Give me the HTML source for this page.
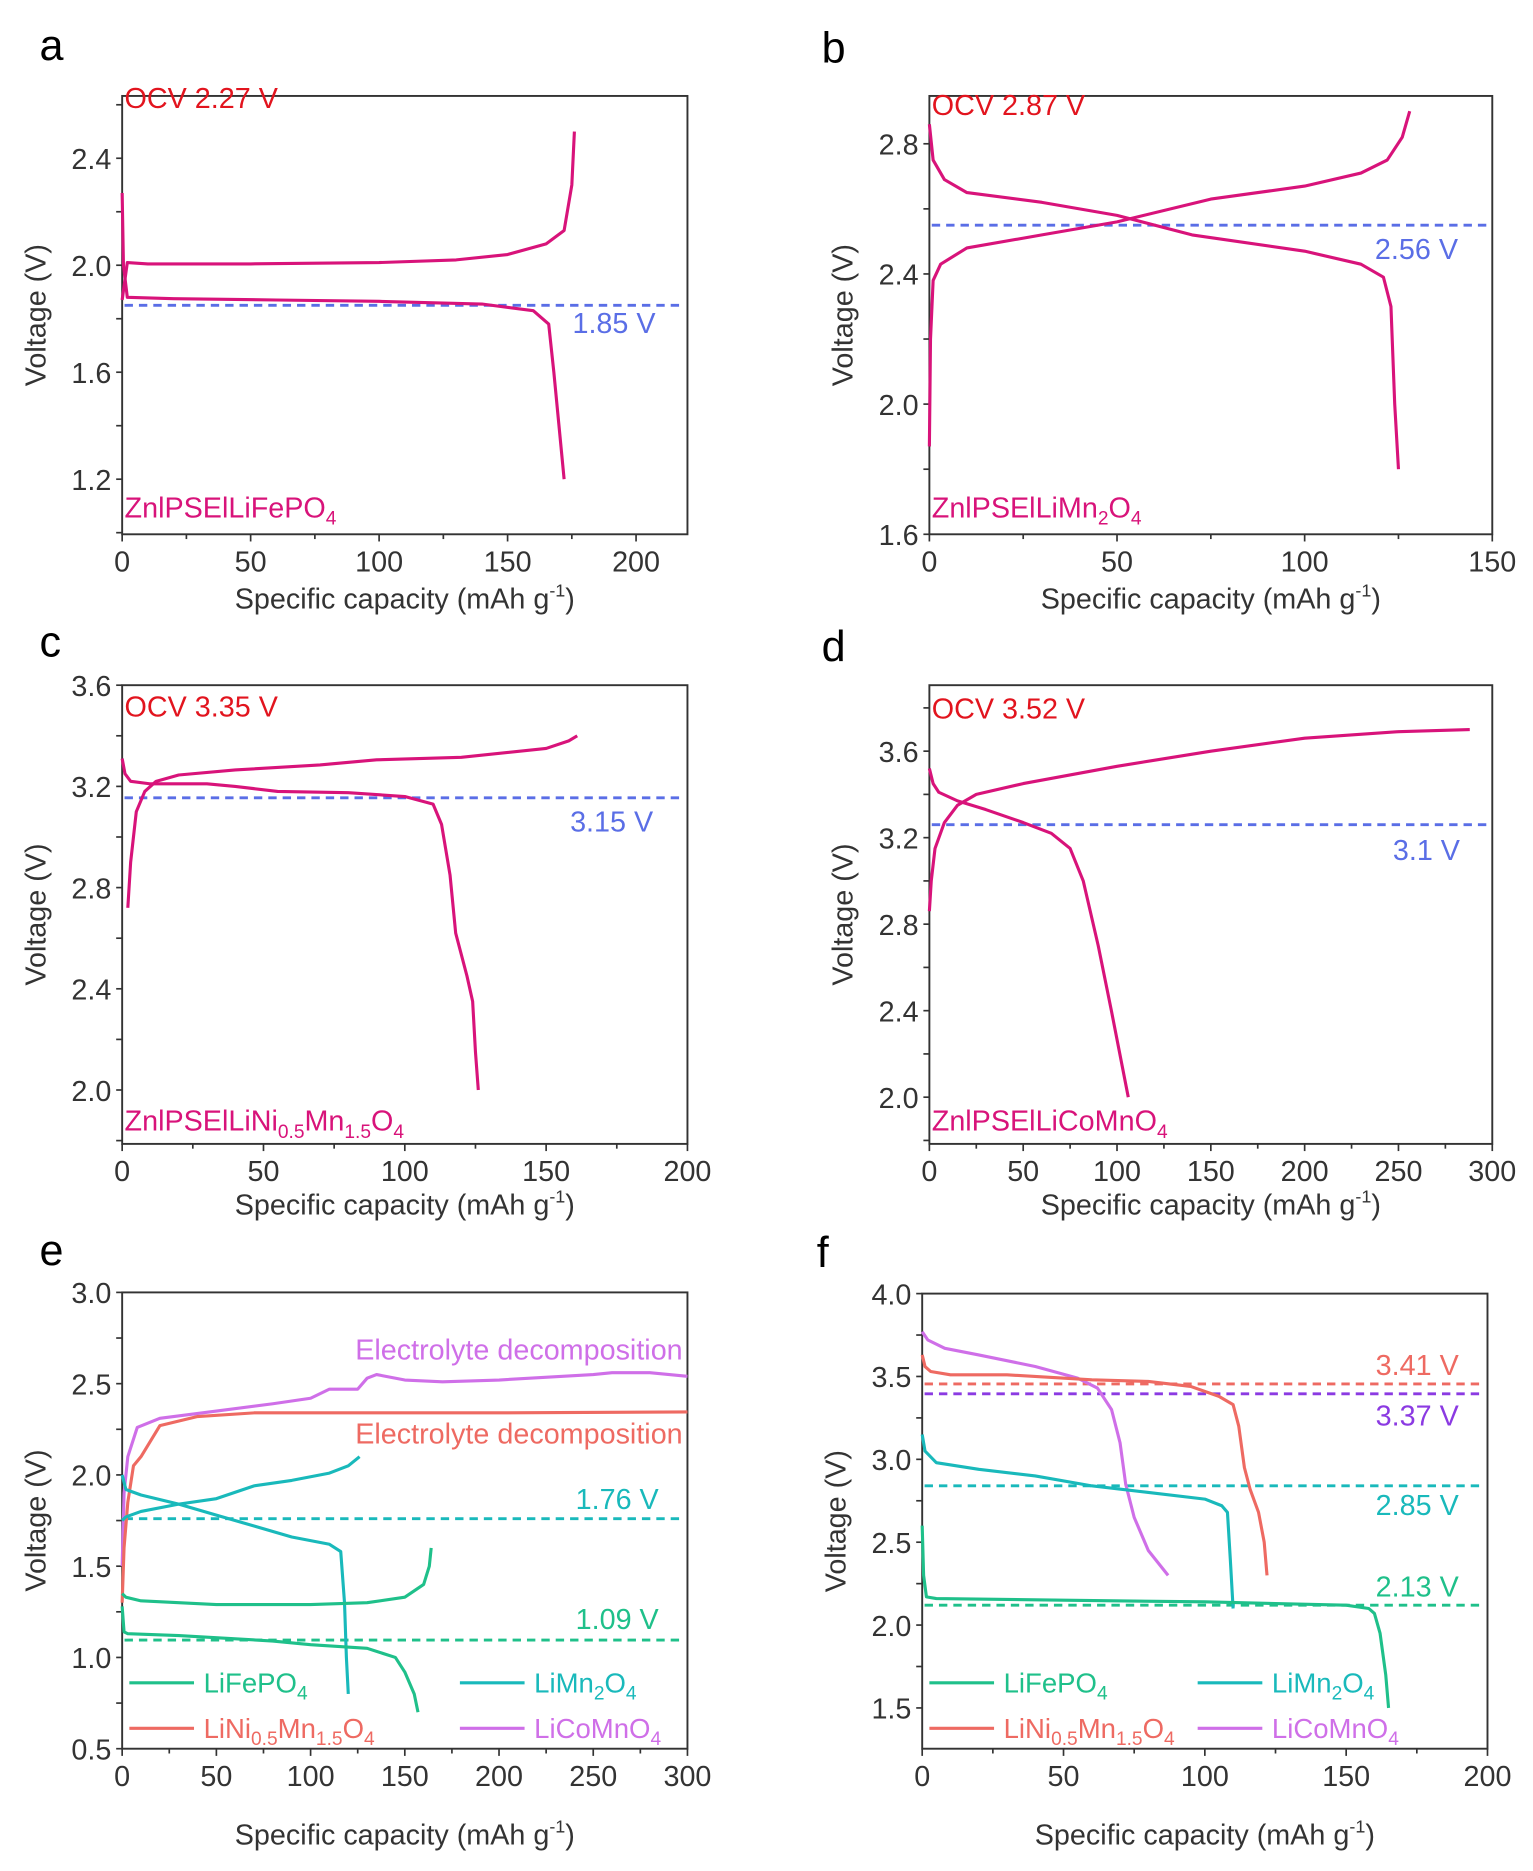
<!DOCTYPE html>
<html><head><meta charset="utf-8"><style>
html,body{margin:0;padding:0;background:#fff}
svg{display:block;font-family:"Liberation Sans",Arial,sans-serif}
</style></head><body>
<svg id="fig" width="1533" height="1871" viewBox="0 0 1280 1562" xmlns="http://www.w3.org/2000/svg"></svg>
<script>
// ---- panel a data ----
const aChargeCap=[0,2,10,50,100,130,150,165,172,175,176];
const aChargeV=[1.87,2.01,2.005,2.005,2.01,2.02,2.04,2.08,2.13,2.3,2.5];
const aDisCap=[0,0.5,2,20,60,100,140,160,166,168,170,172];
const aDisV=[2.27,2.0,1.88,1.875,1.87,1.865,1.855,1.83,1.78,1.6,1.4,1.2];
// ---- panel b data ----
const bChargeCap=[0,0.3,1,3,10,30,50,75,100,115,122,126,128];
const bChargeV=[1.87,2.2,2.38,2.43,2.48,2.52,2.56,2.63,2.67,2.71,2.75,2.82,2.9];
const bDisCap=[0,1,4,10,30,50,70,100,115,121,123,124,125];
const bDisV=[2.86,2.75,2.69,2.65,2.62,2.58,2.52,2.47,2.43,2.39,2.3,2.0,1.8];
// ---- panel c data ----
const cChargeCap=[2,3,5,8,12,20,40,70,90,120,150,158,161];
const cChargeV=[2.72,2.9,3.1,3.18,3.22,3.245,3.265,3.285,3.305,3.315,3.35,3.38,3.40];
const cDisCap=[0,1,3,10,30,40,55,80,100,110,113,116,118,122,124,125,126];
const cDisV=[3.31,3.25,3.22,3.21,3.21,3.2,3.18,3.175,3.16,3.13,3.05,2.85,2.62,2.45,2.35,2.15,2.0];
// ---- panel d data ----
const dChargeCap=[0,1,3,8,15,25,50,100,150,200,250,288];
const dChargeV=[2.86,3.0,3.15,3.27,3.35,3.4,3.45,3.53,3.6,3.66,3.69,3.7];
const dDisCap=[0,2,5,15,30,50,65,75,82,90,97,106];
const dDisV=[3.52,3.45,3.41,3.37,3.33,3.27,3.22,3.15,3.0,2.7,2.4,2.0];
// ---- panel e data ----
const eLcmoCap=[0,1,3,8,20,50,80,100,110,125,130,135,150,170,200,250,260,280,300];
const eLcmoV=[1.5,1.9,2.1,2.26,2.31,2.35,2.39,2.42,2.47,2.47,2.53,2.55,2.52,2.51,2.52,2.55,2.56,2.56,2.54];
const eLnmoCap=[0,1,3,6,10,20,40,70,100,200,300];
const eLnmoV=[1.3,1.6,1.85,2.05,2.1,2.27,2.32,2.34,2.34,2.34,2.345];
const eLmoChCap=[0,2,10,30,50,70,90,110,120,126];
const eLmoChV=[1.75,1.77,1.8,1.84,1.87,1.94,1.97,2.01,2.05,2.1];
const eLmoDisCap=[0,2,10,30,50,70,90,110,116,118,119,120];
const eLmoDisV=[2.0,1.92,1.89,1.84,1.78,1.72,1.66,1.62,1.58,1.3,1.0,0.8];
const eLfpChCap=[0,2,10,50,100,130,150,160,163,164];
const eLfpChV=[1.35,1.33,1.31,1.29,1.29,1.3,1.33,1.4,1.5,1.6];
const eLfpDisCap=[0,1,3,30,80,100,130,145,150,155,157];
const eLfpDisV=[1.28,1.14,1.13,1.12,1.09,1.07,1.05,1.0,0.92,0.8,0.7];
// ---- panel f data ----
const fLcmoCap=[0,2,8,20,40,55,62,67,70,72,75,80,87];
const fLcmoV=[3.77,3.72,3.67,3.63,3.56,3.49,3.43,3.3,3.1,2.85,2.65,2.45,2.3];
const fLnmoCap=[0,1,3,10,30,60,80,95,105,110,112,114,116,119,121,122];
const fLnmoV=[3.63,3.56,3.53,3.51,3.51,3.48,3.47,3.44,3.38,3.33,3.2,2.95,2.82,2.68,2.5,2.3];
const fLmoCap=[0,1,5,20,40,60,80,100,106,108,109,110];
const fLmoV=[3.15,3.05,2.98,2.94,2.9,2.84,2.8,2.76,2.72,2.68,2.4,2.1];
const fLfpCap=[0,0.5,1.5,5,50,100,150,158,160,162,164,165];
const fLfpV=[2.6,2.3,2.17,2.16,2.15,2.14,2.12,2.1,2.07,1.95,1.7,1.5];
// tick labels
const aXTicks=[0,50,100,150,200], aYTicks=[1.2,1.6,2.0,2.4];
const bXTicks=[0,50,100,150], bYTicks=[1.6,2.0,2.4,2.8];
const cXTicks=[0,50,100,150,200], cYTicks=[2.0,2.4,2.8,3.2,3.6];
const dXTicks=[0,50,100,150,200,250,300], dYTicks=[2.0,2.4,2.8,3.2,3.6];
const eXTicks=[0,50,100,150,200,250,300], eYTicks=[0.5,1.0,1.5,2.0,2.5,3.0];
const fXTicks=[0,50,100,150,200], fYTicks=[1.5,2.0,2.5,3.0,3.5,4.0];

const NS='http://www.w3.org/2000/svg';
const svg=document.getElementById('fig');
function mk(tag,attrs,parent){const e=document.createElementNS(NS,tag);for(const k in attrs)e.setAttribute(k,attrs[k]);(parent||svg).appendChild(e);return e;}
const MAG='#d8137a',BLUE='#5a6ee6',RED='#e2141e',GREEN='#1fc08a',TEAL='#19b9bb',CORAL='#ee6a62',VIOLET='#cf6fe8',PURPLE='#8b3ae2';

function panel(o){
  const g=mk('g',{});
  
  
  const X=v=>o.x0+(v-o.xmin)/(o.xmax-o.xmin)*(o.x1-o.x0);
  const Y=v=>o.y1-(v-o.ymin)/(o.ymax-o.ymin)*(o.y1-o.y0);
  const lt=mk('text',{x:o.lx,y:o.ly,'font-size':36,fill:'#000'},g);lt.textContent=o.id;
  
  const box=mk('rect',{x:o.x0,y:o.y0,width:o.x1-o.x0,height:o.y1-o.y0,fill:'none',stroke:'#333','stroke-width':1.6},g);
  
  const xs=o.xt;const xstep=xs[1]-xs[0];
  for(let v=o.xmin;v<=o.xmax+1e-9;v+=xstep/2){
    const major=xs.some(t=>Math.abs(t-v)<1e-9);
    mk('line',{x1:X(v),x2:X(v),y1:o.y1,y2:o.y1+(major?6:4),stroke:'#333','stroke-width':1.4},g);
  }
  xs.forEach(v=>{const t=mk('text',{x:X(v),y:o.y1+31,'font-size':24,fill:'#333','text-anchor':'middle'},g);t.textContent=v;
    });
  const ys=o.yt;const ystep=ys[1]-ys[0];
  let start=ys[0];while(start-ystep/2>=o.ymin-1e-9)start-=ystep/2;
  for(let v=start;v<=o.ymax+1e-9;v+=ystep/2){
    mk('line',{x1:o.x0-5,x2:o.x0,y1:Y(v),y2:Y(v),stroke:'#333','stroke-width':1.4},g);
  }
  ys.forEach(v=>{const t=mk('text',{x:o.x0-9,y:Y(v)+9,'font-size':24,fill:'#333','text-anchor':'end'},g);t.textContent=v.toFixed(1);
    });
  const xt=mk('text',{x:(o.x0+o.x1)/2,y:o.xty,'font-size':24,fill:'#333','text-anchor':'middle'},g);
  xt.innerHTML='Specific capacity (mAh g<tspan dy="-10" font-size="15">-1</tspan><tspan dy="10">)</tspan>';
  
  const yt=mk('text',{x:0,y:0,'font-size':24,fill:'#333','text-anchor':'middle',transform:`translate(${o.x0-64},${(o.y0+o.y1)/2}) rotate(-90)`},g);
  yt.textContent='Voltage (V)';
  o.dashed.forEach(d=>{const l=mk('line',{x1:X(o.xmin)+2,x2:o.x1-2,y1:Y(d.v),y2:Y(d.v),stroke:d.c,'stroke-width':2.4,'stroke-dasharray':'7 5'},g);
    });
  o.series.forEach(s=>{const p=mk('polyline',{points:s.cap.map((c,i)=>X(c)+','+Y(s.v[i])).join(' '),fill:'none',stroke:s.c,'stroke-width':2.6,'stroke-linejoin':'round'},g);
    });
  (o.texts||[]).forEach(t=>{const e=mk('text',{x:t.x,y:t.y,'font-size':t.fs||24,fill:t.c,'text-anchor':t.a||'start'},g);e.innerHTML=t.h;
    });
  (o.legend||[]).forEach(t=>{const l=mk('line',{x1:t.x,x2:t.x+54,y1:t.y,y2:t.y,stroke:t.c,'stroke-width':2.6},g);
    const e=mk('text',{x:t.x+62,y:t.y+8,'font-size':23,fill:t.c},g);e.innerHTML=t.h;
    
    });
}
const sub=s=>`<tspan dy="6" font-size="16">${s}</tspan><tspan dy="-6">`;
const LFP='LiFePO'+sub('4')+'</tspan>';
const LMO='LiMn'+sub('2')+'O'+sub('4')+'</tspan></tspan>';
const LNMO='LiNi'+sub('0.5')+'Mn'+sub('1.5')+'O'+sub('4')+'</tspan></tspan></tspan>';
const LCMO='LiCoMnO'+sub('4')+'</tspan>';

panel({id:'a',lx:33,ly:50,x0:102,x1:574,y0:80,y1:446,xmin:0,xmax:220,ymin:0.994,ymax:2.633,xt:aXTicks,yt:aYTicks,xty:508,
 dashed:[{v:1.85,c:BLUE}],
 series:[{n:'charge-curve',cap:aChargeCap,v:aChargeV,c:MAG},{n:'discharge-curve',cap:aDisCap,v:aDisV,c:MAG}],
 texts:[{x:104,y:90,h:'OCV 2.27 V',c:RED,n:'ocv-label'},{x:478,y:278,h:'1.85 V',c:BLUE,n:'mid-voltage-label'},
  {x:104,y:432,h:'ZnlPSElLiFePO'+sub('4')+'</tspan>',c:MAG,n:'cell-label'}]});
panel({id:'b',lx:686,ly:52,x0:776,x1:1246,y0:80,y1:446,xmin:0,xmax:150,ymin:1.6,ymax:2.947,xt:bXTicks,yt:bYTicks,xty:508,
 dashed:[{v:2.55,c:BLUE}],
 series:[{n:'charge-curve',cap:bChargeCap,v:bChargeV,c:MAG},{n:'discharge-curve',cap:bDisCap,v:bDisV,c:MAG}],
 texts:[{x:778,y:96,h:'OCV 2.87 V',c:RED,n:'ocv-label'},{x:1148,y:216,h:'2.56 V',c:BLUE,n:'mid-voltage-label'},
  {x:778,y:432,h:'ZnlPSElLiMn'+sub('2')+'O'+sub('4')+'</tspan></tspan>',c:MAG,n:'cell-label'}]});
panel({id:'c',lx:33,ly:548,x0:102,x1:574,y0:572,y1:955,xmin:0,xmax:200,ymin:1.787,ymax:3.6,xt:cXTicks,yt:cYTicks,xty:1014,
 dashed:[{v:3.155,c:BLUE}],
 series:[{n:'charge-curve',cap:cChargeCap,v:cChargeV,c:MAG},{n:'discharge-curve',cap:cDisCap,v:cDisV,c:MAG}],
 texts:[{x:104,y:598,h:'OCV 3.35 V',c:RED,n:'ocv-label'},{x:476,y:694,h:'3.15 V',c:BLUE,n:'mid-voltage-label'},
  {x:104,y:944,h:'ZnlPSEl'+LNMO,c:MAG,n:'cell-label'}]});
panel({id:'d',lx:686,ly:552,x0:776,x1:1246,y0:572,y1:955,xmin:0,xmax:300,ymin:1.784,ymax:3.905,xt:dXTicks,yt:dYTicks,xty:1014,
 dashed:[{v:3.26,c:BLUE}],
 series:[{n:'charge-curve',cap:dChargeCap,v:dChargeV,c:MAG},{n:'discharge-curve',cap:dDisCap,v:dDisV,c:MAG}],
 texts:[{x:778,y:600,h:'OCV 3.52 V',c:RED,n:'ocv-label'},{x:1163,y:718,h:'3.1 V',c:BLUE,n:'mid-voltage-label'},
  {x:778,y:944,h:'ZnlPSEl'+LCMO,c:MAG,n:'cell-label'}]});
panel({id:'e',lx:33,ly:1056,x0:102,x1:574,y0:1079,y1:1460,xmin:0,xmax:300,ymin:0.5,ymax:3.0,xt:eXTicks,yt:eYTicks,xty:1540,
 dashed:[{v:1.76,c:TEAL},{v:1.095,c:GREEN}],
 series:[{n:'lcmo-charge',cap:eLcmoCap,v:eLcmoV,c:VIOLET},{n:'lnmo-charge',cap:eLnmoCap,v:eLnmoV,c:CORAL},
  {n:'lmo-charge',cap:eLmoChCap,v:eLmoChV,c:TEAL},{n:'lmo-discharge',cap:eLmoDisCap,v:eLmoDisV,c:TEAL},
  {n:'lfp-charge',cap:eLfpChCap,v:eLfpChV,c:GREEN},{n:'lfp-discharge',cap:eLfpDisCap,v:eLfpDisV,c:GREEN}],
 texts:[{x:570,y:1135,h:'Electrolyte decomposition',c:VIOLET,a:'end',n:'decomposition-label'},
  {x:570,y:1205,h:'Electrolyte decomposition',c:CORAL,a:'end',n:'decomposition-label'},
  {x:550,y:1260,h:'1.76 V',c:TEAL,a:'end',n:'lmo-voltage-label'},{x:550,y:1360,h:'1.09 V',c:GREEN,a:'end',n:'lfp-voltage-label'}],
 legend:[{x:108,y:1405,c:GREEN,h:LFP},{x:384,y:1405,c:TEAL,h:LMO},{x:108,y:1443,c:CORAL,h:LNMO},{x:384,y:1443,c:VIOLET,h:LCMO}]});
panel({id:'f',lx:682,ly:1058,x0:770,x1:1242,y0:1080,y1:1460,xmin:0,xmax:200,ymin:1.254,ymax:4.0,xt:fXTicks,yt:fYTicks,xty:1540,
 dashed:[{v:3.455,c:CORAL},{v:3.395,c:PURPLE},{v:2.84,c:TEAL},{v:2.12,c:GREEN}],
 series:[{n:'lcmo-discharge',cap:fLcmoCap,v:fLcmoV,c:VIOLET},{n:'lnmo-discharge',cap:fLnmoCap,v:fLnmoV,c:CORAL},
  {n:'lmo-discharge',cap:fLmoCap,v:fLmoV,c:TEAL},{n:'lfp-discharge',cap:fLfpCap,v:fLfpV,c:GREEN}],
 texts:[{x:1218,y:1148,h:'3.41 V',c:CORAL,a:'end',n:'lnmo-voltage-label'},{x:1218,y:1190,h:'3.37 V',c:PURPLE,a:'end',n:'lcmo-voltage-label'},
  {x:1218,y:1265,h:'2.85 V',c:TEAL,a:'end',n:'lmo-voltage-label'},{x:1218,y:1333,h:'2.13 V',c:GREEN,a:'end',n:'lfp-voltage-label'}],
 legend:[{x:776,y:1405,c:GREEN,h:LFP},{x:1000,y:1405,c:TEAL,h:LMO},{x:776,y:1443,c:CORAL,h:LNMO},{x:1000,y:1443,c:VIOLET,h:LCMO}]});
</script>
</body></html>
